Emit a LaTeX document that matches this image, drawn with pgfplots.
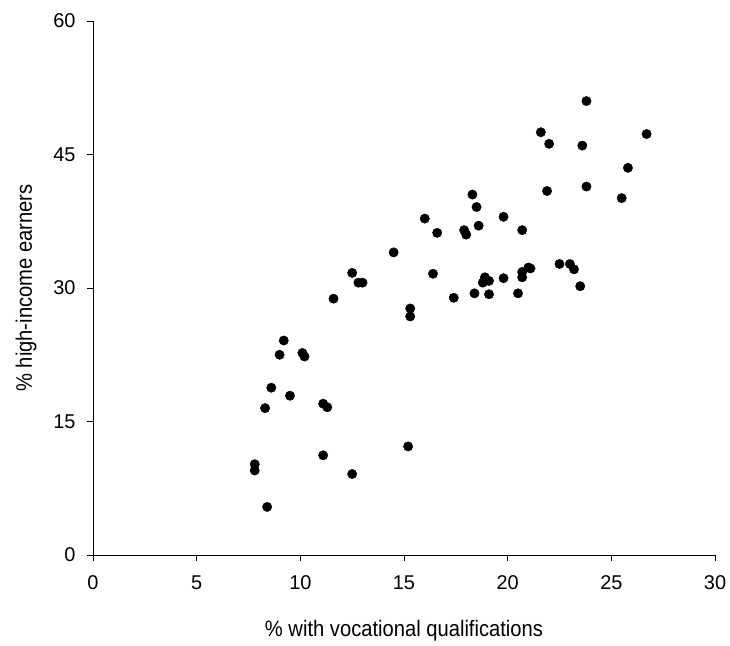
\documentclass[border=0pt]{standalone}
\usepackage{fontspec}
\setmainfont{Liberation Sans}
\newfontfamily\narrowsans{Liberation Sans}[FakeStretch=0.9]
\usepackage{pgfplots}
\pgfplotsset{compat=1.18}

\begin{document}
\begin{tikzpicture}
\useasboundingbox (-93bp,-91bp) rectangle (637bp,555bp);
\begin{axis}[
  at={(0,0)}, anchor=south west,
  scale only axis,
  width=622bp, height=534bp,
  xmin=0, xmax=30, ymin=0, ymax=60,
  xtick={0,5,...,30}, ytick={0,15,...,60},
  axis x line*=bottom, axis y line*=left,
  axis line style={line width=0.9bp, -},
  tick align=outside,
  major tick length=6bp,
  tick style={line width=0.9bp, black},
  every tick label/.append style={font=\fontsize{20}{22}\selectfont},
  /pgf/number format/assume math mode=true,
  xticklabel style={yshift=-11bp},
  yticklabel style={xshift=-8bp},
  xlabel={\% with vocational qualifications},
  ylabel={\% high-income earners},
  label style={font=\narrowsans\fontsize{22.5}{24}\selectfont},
  xlabel style={at={(axis description cs:0.5,0)}, anchor=center, yshift=-76bp},
  ylabel style={at={(axis description cs:0,0.5)}, anchor=center, yshift=67bp},
  clip=false,
]
\addplot[only marks, mark=*, mark size=4.7bp, black] coordinates {
  (7.8,10.2) (7.8,9.5) (8.4,5.4) (8.3,16.5) (8.6,18.8) (9.0,22.5)
  (9.2,24.1) (9.5,17.9) (10.1,22.7) (10.2,22.3) (11.1,17.0) (11.3,16.6)
  (11.1,11.2) (11.6,28.8) (12.5,9.1) (12.5,31.7) (12.8,30.6) (13.0,30.6)
  (14.5,34.0) (15.2,12.2) (15.3,26.8) (15.3,27.7) (16.0,37.8) (16.4,31.6)
  (16.6,36.2) (17.4,28.9) (17.9,36.5) (18.0,36.0) (18.3,40.5) (18.4,29.4)
  (18.5,39.1) (18.6,37.0) (18.9,31.2) (18.8,30.6) (19.1,30.8) (19.1,29.3)
  (19.8,38.0) (19.8,31.1) (20.5,29.4) (20.7,36.5) (20.7,31.8) (20.7,31.2)
  (21.0,32.3) (21.1,32.2) (21.6,47.5) (21.9,40.9) (22.0,46.2) (22.5,32.7)
  (23.0,32.7) (23.2,32.1) (23.5,30.2) (23.6,46.0) (23.8,51.0) (23.8,41.4)
  (25.5,40.1) (25.8,43.5) (26.7,47.3)
};
\end{axis}
\end{tikzpicture}
\end{document}
